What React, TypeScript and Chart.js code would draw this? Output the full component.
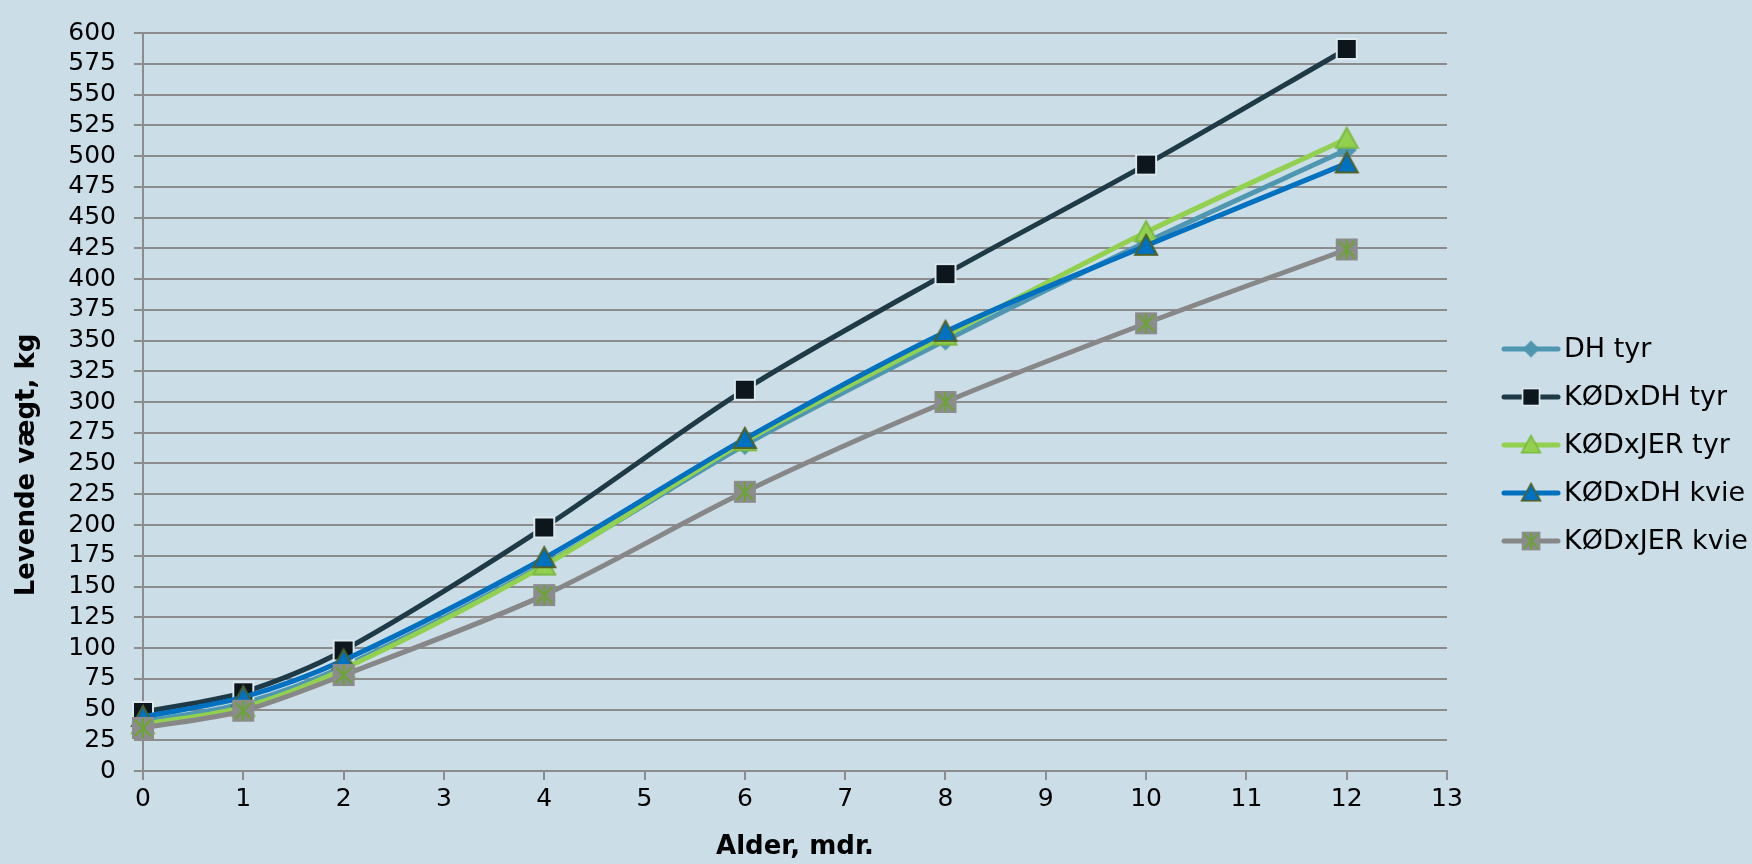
import React, { useEffect, useRef } from 'react';
import { Chart, registerables } from 'chart.js';

Chart.register(...registerables);

// ---- data ----
const ages = [0, 1, 2, 4, 6, 8, 10, 12];
const seriesNames = ['DH tyr', 'KØDxDH tyr', 'KØDxJER tyr', 'KØDxDH kvie', 'KØDxJER kvie'];
const dhTyr = [40, 55, 85, 168, 265, 350, 430, 505];
const kodDhTyr = [48, 64, 98, 198, 310, 404, 493, 587];
const kodJerTyr = [38, 52, 83, 167, 268, 354, 438, 514];
const kodDhKvie = [44, 60, 90, 173, 270, 357, 427, 494];
const kodJerKvie = [35, 49, 78, 143, 227, 300, 364, 424];
const xMin = 0;
const xMax = 13;
const xStep = 1;
const yMin = 0;
const yMax = 600;
const yStep = 25;
const xTitle = 'Alder, mdr.';
const yTitle = 'Levende vægt, kg';

const FONT = '"DejaVu Sans", Verdana, sans-serif';
const BG = '#cbdde6';
const GRID = '#8c8c8c';

type MarkerKind = 'diamond' | 'square' | 'triangle' | 'starSquare';

function makeMarker(kind: MarkerKind, fill: string, stroke: string): HTMLCanvasElement {
  const size = 26;
  const c = document.createElement('canvas');
  c.width = size;
  c.height = size;
  const ctx = c.getContext('2d')!;
  const m = size / 2;
  ctx.lineJoin = 'miter';
  if (kind === 'diamond') {
    ctx.beginPath();
    ctx.moveTo(m, m - 10);
    ctx.lineTo(m + 10, m);
    ctx.lineTo(m, m + 10);
    ctx.lineTo(m - 10, m);
    ctx.closePath();
    ctx.fillStyle = fill;
    ctx.fill();
  } else if (kind === 'square') {
    ctx.fillStyle = stroke;
    ctx.fillRect(m - 11, m - 11, 22, 22);
    ctx.fillStyle = fill;
    ctx.fillRect(m - 9, m - 9, 18, 18);
  } else if (kind === 'triangle') {
    ctx.beginPath();
    ctx.moveTo(m, m - 11);
    ctx.lineTo(m + 11, m + 9);
    ctx.lineTo(m - 11, m + 9);
    ctx.closePath();
    ctx.fillStyle = fill;
    ctx.fill();
    ctx.lineWidth = 2;
    ctx.strokeStyle = stroke;
    ctx.stroke();
  } else {
    ctx.fillStyle = fill;
    ctx.fillRect(m - 11, m - 11, 22, 22);
    ctx.strokeStyle = stroke;
    ctx.lineWidth = 2;
    ctx.beginPath();
    ctx.moveTo(m, m - 10);
    ctx.lineTo(m, m + 10);
    ctx.moveTo(m - 8, m - 8);
    ctx.lineTo(m + 8, m + 8);
    ctx.moveTo(m + 8, m - 8);
    ctx.lineTo(m - 8, m + 8);
    ctx.stroke();
  }
  return c;
}

const bgPlugin = {
  id: 'bgFill',
  beforeDraw(chart: any) {
    const { ctx, width, height } = chart;
    ctx.save();
    ctx.fillStyle = BG;
    ctx.fillRect(0, 0, width, height);
    ctx.restore();
  },
};

const titlesPlugin = {
  id: 'axisTitles',
  afterDraw(chart: any) {
    const ctx = chart.ctx;
    const area = chart.chartArea;
    ctx.save();
    ctx.fillStyle = '#000';
    ctx.font = `bold 26px ${FONT}`;
    ctx.textAlign = 'center';
    ctx.textBaseline = 'middle';
    ctx.fillText(xTitle, (area.left + area.right) / 2, 847);
    ctx.translate(27, 465);
    ctx.rotate(-Math.PI / 2);
    ctx.fillText(yTitle, 0, 0);
    ctx.restore();
  },
};

const legendPlugin = {
  id: 'sideLegend',
  afterDraw(chart: any) {
    const ctx = chart.ctx;
    const x0 = chart.chartArea.right + 57;
    chart.data.datasets.forEach((ds: any, i: number) => {
      const y = 349 + i * 48;
      ctx.save();
      ctx.strokeStyle = ds.borderColor;
      ctx.lineWidth = 5;
      ctx.lineCap = 'round';
      ctx.beginPath();
      ctx.moveTo(x0, y);
      ctx.lineTo(x0 + 54, y);
      ctx.stroke();
      const img = ds.pointStyle as HTMLCanvasElement;
      const s = 0.85;
      ctx.drawImage(img, x0 + 27 - (img.width * s) / 2, y - (img.height * s) / 2, img.width * s, img.height * s);
      ctx.fillStyle = '#000';
      ctx.font = `27px ${FONT}`;
      ctx.textBaseline = 'middle';
      ctx.textAlign = 'left';
      ctx.fillText(ds.label, x0 + 60, y + 1);
      ctx.restore();
    });
  },
};

export default function App() {
  const ref = useRef<HTMLCanvasElement | null>(null);

  useEffect(() => {
    if (!ref.current) return;
    const values = [dhTyr, kodDhTyr, kodJerTyr, kodDhKvie, kodJerKvie];
    const lineColors = ['#4f97b0', '#1f3a47', '#92d050', '#0070c0', '#878787'];
    const markers = [
      makeMarker('diamond', '#4f97b0', '#4f97b0'),
      makeMarker('square', '#0c161c', '#dbe8ee'),
      makeMarker('triangle', '#92d050', '#7cbb43'),
      makeMarker('triangle', '#0070c0', '#4f6228'),
      makeMarker('starSquare', '#8c8c8c', '#6aa532'),
    ];
    const datasets = seriesNames.map((name, i) => ({
      label: name,
      data: ages.map((a, j) => ({ x: a, y: values[i][j] })),
      borderColor: lineColors[i],
      backgroundColor: lineColors[i],
      borderWidth: 5,
      tension: 0.3,
      pointStyle: markers[i],
      pointRadius: 11,
      pointHoverRadius: 11,
      order: seriesNames.length - i,
      clip: false as any,
    }));

    const chart = new Chart(ref.current, {
      type: 'line',
      data: { datasets },
      plugins: [bgPlugin, legendPlugin, titlesPlugin],
      options: {
        animation: false,
        responsive: false,
        events: [],
        layout: { padding: { top: 24, right: 305, left: 0, bottom: 0 } },
        plugins: {
          legend: { display: false },
          tooltip: { enabled: false },
        },
        scales: {
          x: {
            type: 'linear',
            min: xMin,
            max: xMax,
            ticks: {
              stepSize: xStep,
              autoSkip: false,
              maxTicksLimit: 100,
              color: '#000',
              font: { family: FONT, size: 25 },
              padding: 4,
              maxRotation: 0,
            },
            grid: {
              drawOnChartArea: false,
              drawTicks: true,
              tickLength: 9,
              color: GRID,
              lineWidth: 2,
            },
            border: { display: true, color: GRID, width: 2 },
            afterFit: (s: any) => {
              s.height = 93;
            },
          },
          y: {
            type: 'linear',
            min: yMin,
            max: yMax,
            ticks: {
              stepSize: yStep,
              autoSkip: false,
              maxTicksLimit: 100,
              color: '#000',
              font: { family: FONT, size: 25 },
              padding: 18,
            },
            grid: {
              drawTicks: true,
              tickLength: 9,
              color: GRID,
              lineWidth: 2,
            },
            border: { display: true, color: GRID, width: 2 },
            afterFit: (s: any) => {
              s.width = 143;
            },
          },
        },
      },
    });
    return () => chart.destroy();
  }, []);

  return (
    <div style={{ position: 'fixed', left: 0, top: 0, width: 1752, height: 864, background: BG }}>
      <canvas ref={ref} width={1752} height={864} style={{ width: 1752, height: 864, display: 'block' }} />
    </div>
  );
}
